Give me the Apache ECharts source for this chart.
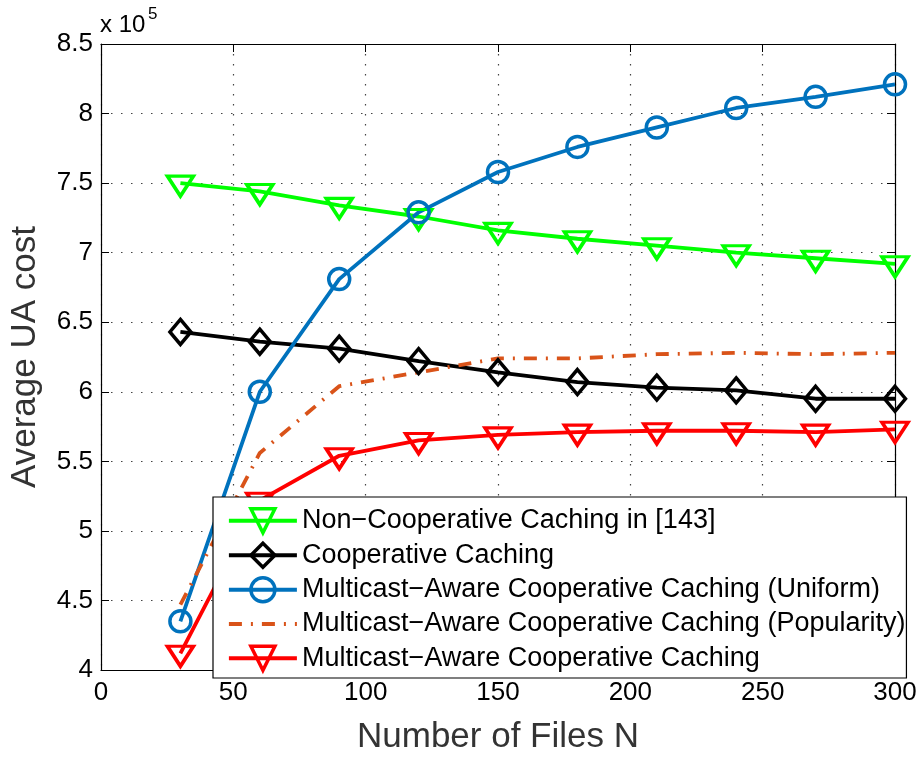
<!DOCTYPE html>
<html>
<head>
<meta charset="utf-8">
<script src="https://cdn.jsdelivr.net/npm/echarts@6/dist/echarts.min.js"></script>
<style>html,body{margin:0;padding:0;background:#fff;}#c{width:922px;height:760px;}</style>
</head>
<body>
<div id="c"></div>
<script>
var xFiles = [30, 60, 90, 120, 150, 180, 210, 240, 270, 300];
var nonCoop = [7.50, 7.44, 7.34, 7.26, 7.16, 7.10, 7.05, 7.00, 6.96, 6.92];
var coop = [6.43, 6.36, 6.31, 6.22, 6.14, 6.07, 6.03, 6.01, 5.95, 5.95];
var macUniform = [4.35, 6.00, 6.81, 7.29, 7.58, 7.76, 7.90, 8.04, 8.12, 8.21];
var macPopularity = [4.47, 5.56, 6.04, 6.14, 6.24, 6.24, 6.27, 6.28, 6.27, 6.28];
var mac = [4.12, 5.22, 5.54, 5.65, 5.69, 5.71, 5.72, 5.72, 5.71, 5.73];
var xTicks = [0, 50, 100, 150, 200, 250, 300];
var yTicks = [4, 4.5, 5, 5.5, 6, 6.5, 7, 7.5, 8, 8.5];
var seriesNames = [
  'Non\u2212Cooperative Caching in [143]',
  'Cooperative Caching',
  'Multicast\u2212Aware Cooperative Caching (Uniform)',
  'Multicast\u2212Aware Cooperative Caching (Popularity)',
  'Multicast\u2212Aware Cooperative Caching'
];
var colors = ['#00FF00', '#000000', '#0072BD', '#D95319', '#FF0000'];

function pairs(ys) { return xFiles.map(function (x, i) { return [x, ys[i]]; }); }

var FONT = 'Liberation Sans, Arial, Helvetica, sans-serif';
var LW = 3.8;
var MW = 3.5;

function lineSeries(name, ys, color, symbol, size, rot, offset) {
  return {
    name: name, type: 'line', data: pairs(ys),
    symbol: symbol, symbolSize: size, symbolRotate: rot || 0,
    symbolOffset: offset || [0, 0],
    showSymbol: true,
    lineStyle: { color: color, width: LW },
    itemStyle: { color: 'rgba(0,0,0,0)', borderColor: color, borderWidth: MW },
    emphasis: { disabled: true },
    animation: false
  };
}

var legendData = seriesNames.map(function (n, i) {
  var d = { name: n, lineStyle: { width: LW, color: colors[i] } };
  if (i === 3) {
    d.itemStyle = { color: 'rgba(0,0,0,0)', borderWidth: 0, borderColor: 'rgba(0,0,0,0)' };
    d.lineStyle.type = [13, 9, 2, 9];
  } else {
    d.itemStyle = { color: 'rgba(0,0,0,0)', borderColor: colors[i], borderWidth: MW };
  }
  return d;
});

var grid = { color: '#444', type: [1.5, 8.5], width: 1.2 };

var chart = echarts.init(document.getElementById('c'), null, { renderer: 'canvas' });
var option = {
  backgroundColor: '#fff',
  animation: false,
  textStyle: { fontFamily: FONT },
  grid: { left: 100, right: 27, top: 44, bottom: 83, show: false },
  graphic: [
    { type: 'text', left: 100, top: 13, style: { text: 'x 10', font: '24px ' + FONT, fill: '#000' } },
    { type: 'text', left: 148, top: 6, style: { text: '5', font: '17px ' + FONT, fill: '#000' } }
  ],
  legend: {
    orient: 'vertical', left: 213, top: 497,
    data: legendData,
    itemWidth: 68, itemHeight: 30, itemGap: 7,
    padding: [10, 1, 6, 14],
    backgroundColor: '#fff', borderColor: '#000', borderWidth: 1.2, borderRadius: 0,
    textStyle: { fontSize: 27, color: '#000', fontFamily: FONT, lineHeight: 26 },
    selectedMode: false
  },
  xAxis: [{
    type: 'value', min: 0, max: 300, interval: 50,
    name: 'Number of Files N', nameLocation: 'middle', nameGap: 50,
    nameTextStyle: { fontSize: 35, color: '#333', fontFamily: FONT },
    axisLine: { show: true, onZero: false, lineStyle: { color: '#000', width: 1.2 } },
    axisTick: { show: true, inside: true, length: 8, lineStyle: { color: '#000' } },
    axisLabel: { fontSize: 26, color: '#000', margin: 10, fontFamily: FONT },
    splitLine: { show: true, lineStyle: grid }
  }, {
    type: 'value', min: 0, max: 300, interval: 50, position: 'top',
    axisLine: { show: true, onZero: false, lineStyle: { color: '#000', width: 1.2 } },
    axisTick: { show: true, inside: true, length: 8, lineStyle: { color: '#000' } },
    axisLabel: { show: false }, splitLine: { show: false }
  }],
  yAxis: [{
    type: 'value', min: 4, max: 8.5, interval: 0.5,
    name: 'Average UA cost', nameLocation: 'middle', nameGap: 58,
    nameTextStyle: { fontSize: 35, color: '#333', fontFamily: FONT },
    axisLine: { show: true, onZero: false, lineStyle: { color: '#000', width: 1.2 } },
    axisTick: { show: true, inside: true, length: 8, lineStyle: { color: '#000' } },
    axisLabel: { fontSize: 26, color: '#000', margin: 8, fontFamily: FONT },
    splitLine: { show: true, lineStyle: grid }
  }, {
    type: 'value', min: 4, max: 8.5, interval: 0.5, position: 'right',
    axisLine: { show: true, onZero: false, lineStyle: { color: '#000', width: 1.2 } },
    axisTick: { show: true, inside: true, length: 8, lineStyle: { color: '#000' } },
    axisLabel: { show: false }, splitLine: { show: false }
  }],
  series: [
    lineSeries(seriesNames[0], nonCoop, colors[0], 'triangle', [26, 20], 180, [0, 3]),
    lineSeries(seriesNames[1], coop, colors[1], 'diamond', [21, 25], 0),
    lineSeries(seriesNames[2], macUniform, colors[2], 'circle', 21, 0),
    {
      name: seriesNames[3], type: 'line', data: pairs(macPopularity),
      symbol: 'circle', symbolSize: 0, showSymbol: false,
      lineStyle: { color: colors[3], width: LW, type: [13, 9, 2, 9] },
      itemStyle: { color: 'rgba(0,0,0,0)', borderWidth: 0 },
      emphasis: { disabled: true }, animation: false
    },
    lineSeries(seriesNames[4], mac, colors[4], 'triangle', [26, 20], 180, [0, 3])
  ]
};
chart.setOption(option);
</script>
</body>
</html>
